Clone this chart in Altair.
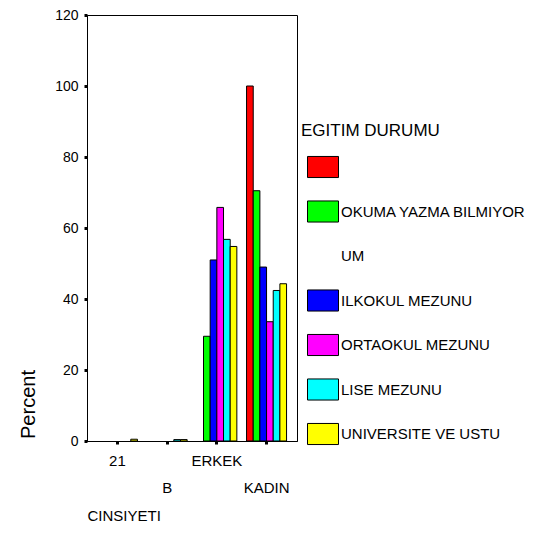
import altair as alt
import pandas as pd

# ---- data ----
categories = ["21", "B", "ERKEK", "KADIN"]
edu_levels = ["", "OKUMA YAZMA BILMIYORUM", "ILKOKUL MEZUNU", "ORTAOKUL MEZUNU",
              "LISE MEZUNU", "UNIVERSITE VE USTU"]
edu_colors = ["#FF0000", "#00FF00", "#0000FF", "#FF00FF", "#00FFFF", "#FFFF00"]

pct_blank = [0, 0, 0, 100.0]
pct_okuma = [0, 0, 29.5, 70.5]
pct_ilkokul = [0, 0, 51.0, 49.0]
pct_ortaokul = [0, 0, 65.8, 33.6]
pct_lise = [0, 0.4, 56.8, 42.4]
pct_univ = [0.5, 0.4, 54.8, 44.3]

y_ticks = [0, 20, 40, 60, 80, 100, 120]

series = [pct_blank, pct_okuma, pct_ilkokul, pct_ortaokul, pct_lise, pct_univ]
rows = []
for edu, vals in zip(edu_levels, series):
    for cat, v in zip(categories, vals):
        if v > 0:
            rows.append({"CINSIYETI": cat, "EGITIM": edu, "Percent": v})
df = pd.DataFrame(rows)

# legend: the long label wraps onto a second line ("UM") in the reference
wrap_key = "UM"
legend_domain = edu_levels[:2] + [wrap_key] + edu_levels[2:]
legend_fill = edu_colors[:2] + ["transparent"] + edu_colors[2:]
legend_stroke = ["black", "black", "transparent", "black", "black", "black", "black"]

FONT = "Liberation Sans"

legend = alt.Legend(
    title="EGITIM DURUMU", orient="none", legendX=214, legendY=108, padding=0,
    titleFontSize=17, titleFontWeight="normal", titleColor="black", titleFont=FONT,
    titlePadding=11,
    labelFontSize=15, labelFont=FONT, labelColor="black", labelLimit=300, labelOffset=2,
    symbolType="M-1,-0.68H1V0.68H-1Z", symbolSize=961, symbolStrokeWidth=1,
    symbolOffset=6, rowPadding=15.5,
    labelExpr="datum.label == 'OKUMA YAZMA BILMIYORUM' ? 'OKUMA YAZMA BILMIYOR' : datum.label",
)

chart = alt.Chart(df).mark_bar(strokeWidth=1).encode(
    x=alt.X("CINSIYETI:N",
            scale=alt.Scale(domain=categories, paddingInner=0.195, paddingOuter=0.21),
            axis=alt.Axis(
                title="CINSIYETI", labelAngle=0, labelFontSize=15, labelFont=FONT,
                labelColor="black",
                labelExpr="indexof(['B','KADIN'], datum.value) >= 0 ? ['', datum.label] : datum.label",
                labelLineHeight=27, labelBaseline="top", labelPadding=9,
                tickSize=3, tickWidth=3, tickColor="black",
                domainColor="black", domainWidth=1,
                titleFontSize=15, titleFontWeight="normal", titleFont=FONT, titleColor="black",
                titleAnchor="start", titleAlign="left", titleX=0, titleY=79,
                titleBaseline="alphabetic")),
    xOffset=alt.XOffset("EGITIM:N",
                        scale=alt.Scale(domain=edu_levels, paddingInner=0, paddingOuter=0)),
    y=alt.Y("Percent:Q",
            scale=alt.Scale(domain=[0, 120], nice=False),
            axis=alt.Axis(
                values=y_ticks, grid=False, title="Percent",
                labelFontSize=14, labelFont=FONT, labelColor="black", labelPadding=6,
                tickSize=3, tickWidth=3, tickColor="black",
                domainColor="black", domainWidth=1,
                titleFontSize=20, titleFontWeight="normal", titleFont=FONT, titleColor="black",
                titleAngle=270, titleX=-59, titleY=389, titleAlign="center",
                titleBaseline="middle")),
    fill=alt.Fill("EGITIM:N",
                  scale=alt.Scale(domain=legend_domain, range=legend_fill),
                  legend=legend),
    stroke=alt.Stroke("EGITIM:N",
                      scale=alt.Scale(domain=legend_domain, range=legend_stroke),
                      legend=legend),
).properties(
    width=210, height=426,
    autosize=alt.AutoSizeParams(type="none"),
    padding={"left": 79, "top": 7, "right": 238, "bottom": 107},
    background="white",
).configure_view(stroke="black", strokeWidth=1)

chart.save("out.html", embed_options={"renderer": "svg", "actions": False})
